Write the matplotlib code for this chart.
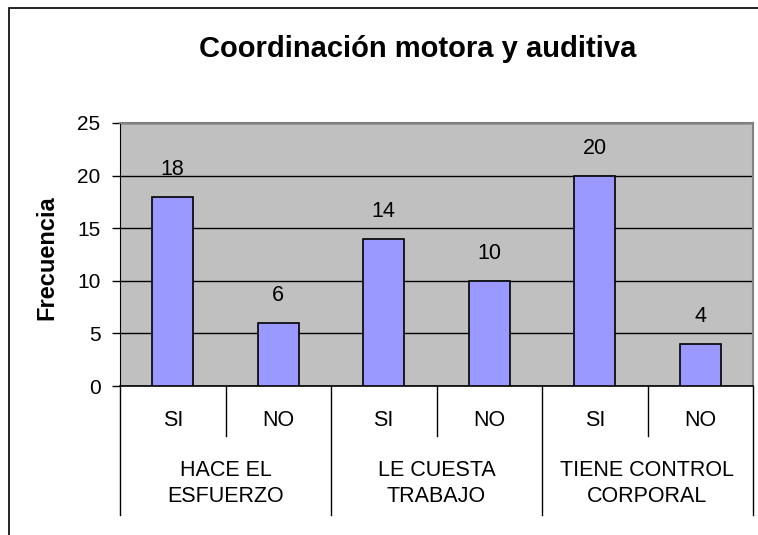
import matplotlib
matplotlib.use("Agg")
import matplotlib.pyplot as plt
from matplotlib.patches import Rectangle
from matplotlib.transforms import blended_transform_factory

plt.rcParams['font.family'] = ['Liberation Sans', 'DejaVu Sans']

title = "Coordinación motora y auditiva"
ylabel = "Frecuencia"
sub_labels = ["SI", "NO", "SI", "NO", "SI", "NO"]
group_labels = ["HACE EL\nESFUERZO", "LE CUESTA\nTRABAJO", "TIENE CONTROL\nCORPORAL"]
values = [18, 6, 14, 10, 20, 4]
yticks = [0, 5, 10, 15, 20, 25]

W, H = 758, 535
fig = plt.figure(figsize=(W / 100, H / 100), dpi=100)
fig.patch.set_facecolor("white")

# figure border
fig.patches.append(Rectangle((9 / W, -0.1), 1.2, 1.1 - 8 / H, transform=fig.transFigure,
                             fill=False, edgecolor="black", linewidth=1.2))

left, right, top, bottom = 120, 753, 123, 386
ax = fig.add_axes([left / W, 1 - bottom / H, (right - left) / W, (bottom - top) / H])
ax.set_facecolor("#C0C0C0")

x = list(range(len(values)))
ax.bar(x, values, width=0.39, color="#9999FF", edgecolor="black", linewidth=1.2, zorder=3)
for xi, v in zip(x, values):
    ax.annotate(str(v), (xi, v), xytext=(0, 19.8), textcoords="offset points",
                ha="center", va="center", fontsize=15.5)

ax.set_xlim(-0.5, len(values) - 0.5)
ax.set_ylim(0, 25)
ax.set_yticks(yticks)
ax.yaxis.grid(True, color="black", linewidth=1.0, zorder=1)
ax.set_axisbelow(True)
ax.tick_params(axis="y", direction="out", length=6, width=1, labelsize=15, pad=8)
ax.set_xticks([])

for s in ["top", "right"]:
    ax.spines[s].set_color("#808080")
    ax.spines[s].set_linewidth(1.5)
ax.spines["left"].set_color("black")
ax.spines["bottom"].set_color("black")
ax.spines["bottom"].set_linewidth(1.2)

trans = blended_transform_factory(ax.transData, ax.transAxes)
h_ax = bottom - top
long_end = -(515 - bottom) / h_ax
short_end = -(436 - bottom) / h_ax
for xb in [-0.5, 1.5, 3.5, 5.5]:
    ax.plot([xb, xb], [0, long_end], transform=trans, color="black", linewidth=1, clip_on=False)
for xb in [0.5, 2.5, 4.5]:
    ax.plot([xb, xb], [0, short_end], transform=trans, color="black", linewidth=1, clip_on=False)

sub_y = -(420 - bottom) / h_ax
grp_y = -(483.5 - bottom) / h_ax
for xi, lab in zip(x, sub_labels):
    ax.text(xi, sub_y, lab, transform=trans, ha="center", va="center", fontsize=15.5)
for gi, lab in enumerate(group_labels):
    ax.text(2 * gi + 0.5, grp_y, lab, transform=trans, ha="center", va="center",
            fontsize=15.5, linespacing=1.33)

fig.text(418 / W, 1 - 49 / H, title, ha="center", va="center", fontsize=21, fontweight="bold")
fig.text(47 / W, 1 - 258 / H, ylabel, ha="center", va="center", rotation=90,
         fontsize=17, fontweight="bold")

fig.savefig("out.png", dpi=100)
